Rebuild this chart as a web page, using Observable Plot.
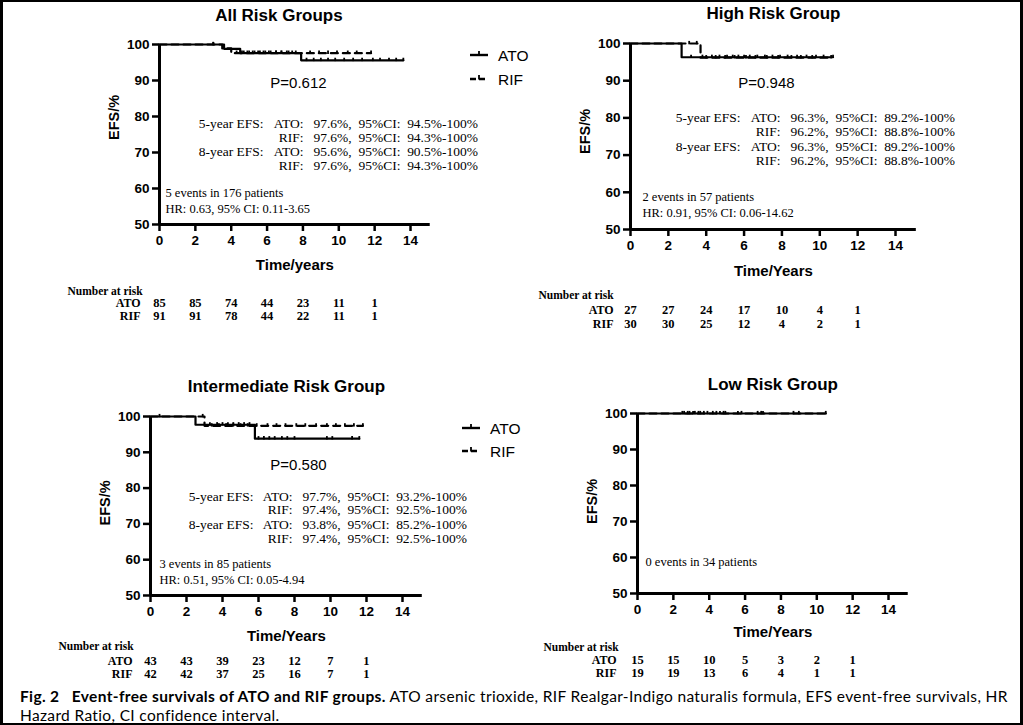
<!DOCTYPE html>
<html><head><meta charset="utf-8">
<script src="https://cdn.jsdelivr.net/npm/d3@7"></script>
<script src="https://cdn.jsdelivr.net/npm/@observablehq/plot@0.6"></script>
<style>
html,body{margin:0;padding:0;background:#fff;}
#page{position:relative;width:1023px;height:725px;overflow:hidden;background:#fff;}
#border{position:absolute;left:0;top:0;width:1023px;height:725px;box-sizing:border-box;border-style:solid;border-color:#000;border-width:2px 3px 2px 3px;pointer-events:none;}
.panel{position:absolute;}
.panel svg{overflow:visible;}
svg text{white-space:pre;}
.legend{position:absolute;}
#caption{position:absolute;left:20px;top:687px;font-family:Lato,"Open Sans",sans-serif;font-size:15.5px;letter-spacing:0.35px;line-height:19px;white-space:nowrap;color:#000;}
</style></head>
<body><div id="page"></div>
<script>
// ---------- shared axis data ----------
const xTicks = [0, 2, 4, 6, 8, 10, 12, 14];
const yTicks = [50, 60, 70, 80, 90, 100];
const riskTimes = [0, 2, 4, 6, 8, 10, 12];
const efsGroup = ["ATO:", "RIF:", "ATO:", "RIF:"];
const efsLabel = ["5-year EFS:", "", "8-year EFS:", ""];

// ---------- All Risk Groups ----------
const allAtoTime = [0, 3.6, 4.5, 7.9, 13.6];
const allAtoEFS  = [100, 98.8, 97.6, 95.6, 95.6];
const allRifTime = [0, 3.5, 4.0, 11.8];
const allRifEFS  = [100, 98.9, 97.6, 97.6];
const allAtoCensor = [3.0, 4.7, 5.0, 5.3, 5.6, 5.9, 6.2, 6.5, 6.8, 7.1, 7.4, 8.2, 8.6, 9.0, 9.4, 9.8, 10.3, 10.8, 11.3, 11.9, 12.3, 12.8, 13.2, 13.6];
const allRifCensor = [3.0, 4.3, 4.6, 4.9, 5.2, 5.5, 5.8, 6.1, 6.5, 6.8, 7.2, 7.6, 8.4, 8.9, 9.4, 9.9, 10.5, 11.0, 11.8];
const allAtoRisk = [85, 85, 74, 44, 23, 11, 1];
const allRifRisk = [91, 91, 78, 44, 22, 11, 1];
const allP = "P=0.612";
const allEfsValue = ["97.6%,  95%CI:  94.5%-100%", "97.6%,  95%CI:  94.3%-100%", "95.6%,  95%CI:  90.5%-100%", "97.6%,  95%CI:  94.3%-100%"];
const allNotes = ["5 events in 176 patients", "HR: 0.63, 95% CI: 0.11-3.65"];

// ---------- High Risk Group ----------
const highAtoTime = [0, 2.7, 10.7];
const highAtoEFS  = [100, 96.3, 96.3];
const highRifTime = [0, 3.7, 10.6];
const highRifEFS  = [100, 96.2, 96.2];
const highAtoCensor = [3.2, 3.8, 4.3, 4.7, 5.1, 5.4, 5.7, 6.0, 6.3, 6.7, 7.1, 7.5, 7.9, 8.3, 8.8, 9.3, 9.8, 10.2, 10.7];
const highRifCensor = [3.1, 3.5, 4.0, 4.5, 5.0, 5.5, 6.1, 6.6, 7.2, 7.8, 8.5, 9.0, 9.6, 10.6];
const highAtoRisk = [27, 27, 24, 17, 10, 4, 1];
const highRifRisk = [30, 30, 25, 12, 4, 2, 1];
const highP = "P=0.948";
const highEfsValue = ["96.3%,  95%CI:  89.2%-100%", "96.2%,  95%CI:  88.8%-100%", "96.3%,  95%CI:  89.2%-100%", "96.2%,  95%CI:  88.8%-100%"];
const highNotes = ["2 events in 57 patients", "HR: 0.91, 95% CI: 0.06-14.62"];

// ---------- Intermediate Risk Group ----------
const midAtoTime = [0, 2.5, 5.8, 11.6];
const midAtoEFS  = [100, 97.7, 93.8, 93.8];
const midRifTime = [0, 3.0, 11.8];
const midRifEFS  = [100, 97.4, 97.4];
const midAtoCensor = [0.5, 3.3, 3.7, 4.0, 4.3, 4.6, 4.9, 5.2, 5.5, 6.0, 6.3, 6.6, 6.9, 7.3, 7.6, 8.0, 9.8, 10.1, 11.2, 11.6];
const midRifCensor = [2.9, 3.4, 3.8, 4.2, 4.6, 5.0, 5.4, 5.9, 6.5, 7.0, 7.5, 8.1, 8.6, 9.2, 9.8, 10.3, 10.8, 11.3, 11.8];
const midAtoRisk = [43, 43, 39, 23, 12, 7, 1];
const midRifRisk = [42, 42, 37, 25, 16, 7, 1];
const midP = "P=0.580";
const midEfsValue = ["97.7%,  95%CI:  93.2%-100%", "97.4%,  95%CI:  92.5%-100%", "93.8%,  95%CI:  85.2%-100%", "97.4%,  95%CI:  92.5%-100%"];
const midNotes = ["3 events in 85 patients", "HR: 0.51, 95% CI: 0.05-4.94"];

// ---------- Low Risk Group ----------
const lowAtoTime = [0, 10.5];
const lowAtoEFS  = [100, 100];
const lowRifTime = [0, 10.5];
const lowRifEFS  = [100, 100];
const lowAtoCensor = [2.5, 2.8, 3.1, 3.4, 3.7, 4.2, 4.6, 4.9, 5.6, 6.7, 8.7, 10.5];
const lowRifCensor = [2.6, 2.9, 3.2, 3.5, 3.9, 4.4, 4.8, 5.8, 6.9, 7.0, 9.0];
const lowAtoRisk = [15, 15, 10, 5, 3, 2, 1];
const lowRifRisk = [19, 19, 13, 6, 4, 1, 1];
const lowNotes = ["0 events in 34 patients"];

const captionBold = "Fig. 2\u00a0\u00a0\u00a0Event-free survivals of ATO and RIF groups.";
const captionLine1 = " ATO arsenic trioxide, RIF Realgar-Indigo naturalis formula, EFS event-free survivals, HR";
const captionLine2 = "Hazard Ratio, CI confidence interval.";

// ---------- helpers ----------
const SANS = '"Liberation Sans", Arial, sans-serif';
const SERIF = '"Liberation Serif", "Times New Roman", serif';
const xMax = 15.1;
const tickSymbol = {draw(ctx, size) { const r = Math.sqrt(size / Math.PI); ctx.moveTo(0, -r); ctx.lineTo(0, r * 0.3); }};
function rows(times, vals) { return times.map((t, i) => ({t, s: vals[i]})); }
function stepAt(times, vals, t) { let v = vals[0]; for (let i = 0; i < times.length; i++) if (times[i] <= t) v = vals[i]; return v; }

const panels = [
  {title: "All Risk Groups", xLabel: "Time/years",
   atoT: allAtoTime, atoS: allAtoEFS, rifT: allRifTime, rifS: allRifEFS, atoC: allAtoCensor, rifC: allRifCensor,
   atoRisk: allAtoRisk, rifRisk: allRifRisk, p: allP, efsValue: allEfsValue, notes: allNotes, legend: true,
   L: {fl: 159, ft: 44, fh: 180, ppu: 17.93, mb: 115, titleDx: -16, titleDy: -29, yLabDy: -17, xLabDy: 41,
       pDx: 139, pDy: 39, c1: 104, c2: 144, c3: 154, efsDy: [79, 93, 107, 121], noteDx: 6, noteDy: [149, 165],
       nrDx: -92, nrDy: 67, rowDx: -19, rowDy: [79, 92], legX: 470, legY: [55, 79]}},
  {title: "High Risk Group", xLabel: "Time/Years",
   atoT: highAtoTime, atoS: highAtoEFS, rifT: highRifTime, rifS: highRifEFS, atoC: highAtoCensor, rifC: highRifCensor,
   atoRisk: highAtoRisk, rifRisk: highRifRisk, p: highP, efsValue: highEfsValue, notes: highNotes, legend: false,
   L: {fl: 630, ft: 43, fh: 186, ppu: 18.93, mb: 112, titleDx: 0, titleDy: -30, yLabDy: -5, xLabDy: 42,
       pDx: 136, pDy: 40, c1: 110, c2: 150, c3: 160, efsDy: [74, 88, 103, 117], noteDx: 12, noteDy: [154, 170],
       nrDx: -92, nrDy: 66, rowDx: -17, rowDy: [81, 95]}},
  {title: "Intermediate Risk Group", xLabel: "Time/Years",
   atoT: midAtoTime, atoS: midAtoEFS, rifT: midRifTime, rifS: midRifEFS, atoC: midAtoCensor, rifC: midRifCensor,
   atoRisk: midAtoRisk, rifRisk: midRifRisk, p: midP, efsValue: midEfsValue, notes: midNotes, legend: true,
   L: {fl: 150, ft: 416, fh: 179, ppu: 18.0, mb: 92, titleDx: 0, titleDy: -30, yLabDy: -3, xLabDy: 41,
       pDx: 148, pDy: 49, c1: 103, c2: 142, c3: 152, efsDy: [80, 93, 108, 122], noteDx: 9, noteDy: [148, 164],
       nrDx: -92, nrDy: 51, rowDx: -18, rowDy: [66, 79], legX: 462, legY: [428, 451]}},
  {title: "Low Risk Group", xLabel: "Time/Years",
   atoT: lowAtoTime, atoS: lowAtoEFS, rifT: lowRifTime, rifS: lowRifEFS, atoC: lowAtoCensor, rifC: lowRifCensor,
   atoRisk: lowAtoRisk, rifRisk: lowRifRisk, p: null, efsValue: null, notes: lowNotes, legend: false,
   L: {fl: 637, ft: 413, fh: 180, ppu: 17.93, mb: 92, titleDx: 0, titleDy: -29, yLabDy: -2, xLabDy: 39,
       noteDx: 8, noteDy: [149],
       nrDx: -94, nrDy: 54, rowDx: -21, rowDy: [67, 80]}}
];

const page = document.getElementById("page");

function label(str, opts) {
  return Plot.text([str], {text: d => d, lineAnchor: "middle", ...opts});
}

for (const P of panels) {
  const L = P.L;
  const ml = 110, mt = 40, mr = 130;
  const fw = xMax * L.ppu;
  const width = ml + fw + mr;
  const height = mt + L.fh + L.mb;
  const censor = [
    ...P.atoC.map(t => ({t, s: stepAt(P.atoT, P.atoS, t)})),
    ...P.rifC.map(t => ({t, s: stepAt(P.rifT, P.rifS, t)}))
  ];
  const marks = [
    Plot.axisY({ticks: yTicks, tickSize: 7, tickPadding: 3, strokeWidth: 2.5, fontSize: 13.5, fontWeight: "bold", label: null}),
    Plot.axisX({ticks: xTicks, tickSize: 7, tickPadding: 4, strokeWidth: 2.5, fontSize: 13.5, fontWeight: "bold", label: null}),
    Plot.ruleY([yTicks[0]], {strokeWidth: 3}),
    Plot.ruleX([xTicks[0]], {strokeWidth: 3}),
    Plot.line(rows(P.atoT, P.atoS), {x: "t", y: "s", curve: "step-after", stroke: "black", strokeWidth: 2.2}),
    Plot.line(rows(P.rifT, P.rifS), {x: "t", y: "s", curve: "step-after", stroke: "black", strokeWidth: 2.2, strokeDasharray: "7,5"}),
    Plot.dot(censor, {x: "t", y: "s", symbol: tickSymbol, r: 2.6, fill: "none", stroke: "black", strokeWidth: 1.8}),
    label(P.title, {frameAnchor: "top", dx: L.titleDx, dy: L.titleDy, textAnchor: "middle", fontSize: 17, fontWeight: "bold"}),
    label("EFS/%", {frameAnchor: "left", rotate: -90, dx: -45, dy: L.yLabDy, textAnchor: "middle", fontSize: 14.5, fontWeight: "bold"}),
    label(P.xLabel, {frameAnchor: "bottom", dy: L.xLabDy, textAnchor: "middle", fontSize: 15, fontWeight: "bold"}),
    // number at risk table
    label("Number at risk", {frameAnchor: "bottom-left", dx: L.nrDx, dy: L.nrDy, textAnchor: "start", fontFamily: SERIF, fontWeight: "bold", fontSize: 11.5}),
    label("ATO", {frameAnchor: "bottom-left", dx: L.rowDx, dy: L.rowDy[0], textAnchor: "end", fontFamily: SERIF, fontWeight: "bold", fontSize: 12}),
    label("RIF", {frameAnchor: "bottom-left", dx: L.rowDx, dy: L.rowDy[1], textAnchor: "end", fontFamily: SERIF, fontWeight: "bold", fontSize: 12}),
    Plot.text(riskTimes, {x: d => d, text: (d, i) => P.atoRisk[i], frameAnchor: "bottom", lineAnchor: "middle", textAnchor: "middle", dy: L.rowDy[0], fontFamily: SERIF, fontWeight: "bold", fontSize: 12.5}),
    Plot.text(riskTimes, {x: d => d, text: (d, i) => P.rifRisk[i], frameAnchor: "bottom", lineAnchor: "middle", textAnchor: "middle", dy: L.rowDy[1], fontFamily: SERIF, fontWeight: "bold", fontSize: 12.5})
  ];
  if (P.p) {
    marks.push(label(P.p, {frameAnchor: "top-left", dx: L.pDx, dy: L.pDy, textAnchor: "middle", fontSize: 15}));
  }
  if (P.efsValue) {
    for (let i = 0; i < 4; i++) {
      if (efsLabel[i]) marks.push(label(efsLabel[i], {frameAnchor: "top-left", dx: L.c1, dy: L.efsDy[i], textAnchor: "end", fontFamily: SERIF, fontSize: 13.5}));
      marks.push(label(efsGroup[i], {frameAnchor: "top-left", dx: L.c2, dy: L.efsDy[i], textAnchor: "end", fontFamily: SERIF, fontSize: 13.5}));
      marks.push(label(P.efsValue[i], {frameAnchor: "top-left", dx: L.c3, dy: L.efsDy[i], textAnchor: "start", fontFamily: SERIF, fontSize: 13.5}));
    }
  }
  P.notes.forEach((n, i) => {
    marks.push(label(n, {frameAnchor: "top-left", dx: L.noteDx, dy: L.noteDy[i], textAnchor: "start", fontFamily: SERIF, fontSize: 12.5}));
  });

  const chart = Plot.plot({
    width, height,
    marginLeft: ml, marginRight: mr, marginTop: mt, marginBottom: L.mb,
    x: {domain: [0, xMax]},
    y: {domain: [yTicks[0], yTicks[yTicks.length - 1]]},
    style: {background: "transparent", fontFamily: SANS, color: "black", overflow: "visible"},
    marks
  });
  const div = document.createElement("div");
  div.className = "panel";
  div.style.left = (L.fl - ml) + "px";
  div.style.top = (L.ft - mt) + "px";
  div.style.width = width + "px";
  div.appendChild(chart);
  page.appendChild(div);

  if (P.legend) {
    const names = ["ATO", "RIF"];
    names.forEach((name, i) => {
      const lg = document.createElement("div");
      lg.className = "legend";
      lg.style.left = L.legX + "px";
      lg.style.top = (L.legY[i] - 10) + "px";
      const dash = i === 0 ? "" : 'stroke-dasharray="6,3"';
      lg.innerHTML = `<svg width="70" height="20" style="overflow:visible">
        <line x1="0" x2="18" y1="10" y2="10" stroke="black" stroke-width="2.4" ${dash}></line>
        <line x1="9" x2="9" y1="6" y2="10.5" stroke="black" stroke-width="1.8"></line>
        <text x="28" y="10" dy="0.36em" font-family='${SANS}' font-size="15.5">${name}</text></svg>`;
      page.appendChild(lg);
    });
  }
}

const cap = document.createElement("div");
cap.id = "caption";
cap.innerHTML = `<b>${captionBold}</b>${captionLine1}<br>${captionLine2}`;
page.appendChild(cap);
const border = document.createElement("div");
border.id = "border";
page.appendChild(border);
</script>
</body></html>
